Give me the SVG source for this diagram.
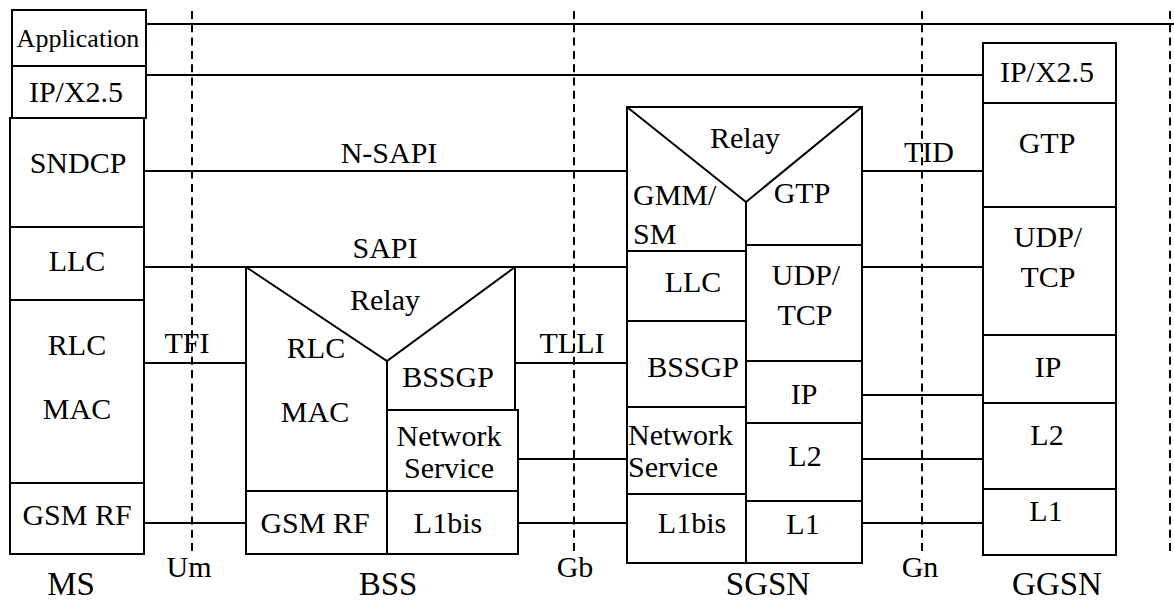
<svg xmlns="http://www.w3.org/2000/svg" width="1174" height="602" viewBox="0 0 1174 602">
  <style>
    .box { fill: none; stroke: #000; stroke-width: 2; }
    .ln { stroke: #000; stroke-width: 2; fill: none; }
    .iface { stroke: #000; stroke-width: 2; stroke-dasharray: 8 5.3; fill: none; }
    text { font-family: "Liberation Serif", "Times New Roman", Times, Tinos, "Nimbus Roman", "Nimbus Roman No9 L", "Noto Serif", "DejaVu Serif", FreeSerif, serif; font-size: 30px; fill: #000; text-anchor: middle; }
    .l { text-anchor: start; }
    .small { font-size: 26px; }
    .big { font-size: 33px; }
  </style>
  <rect width="1174" height="602" fill="#fff"/>

  <!-- interface reference points -->
  <g id="interfaces">
    <line class="iface" x1="192" y1="11" x2="192" y2="552"/>
    <line class="iface" x1="574" y1="11" x2="574" y2="552"/>
    <line class="iface" x1="922" y1="11" x2="922" y2="552"/>
    <line class="iface" x1="1170" y1="11" x2="1170" y2="552"/>
    <text x="189" y="577">Um</text>
    <text x="575" y="577">Gb</text>
    <text x="920" y="577">Gn</text>
  </g>

  <!-- peer-to-peer links between protocol layers -->
  <g id="connectors">
    <line class="ln" x1="146" y1="24" x2="1174" y2="24"/>
    <line class="ln" x1="146" y1="75" x2="983" y2="75"/>
    <line class="ln" x1="144" y1="171" x2="627" y2="171"/>
    <line class="ln" x1="144" y1="267" x2="627" y2="267"/>
    <line class="ln" x1="144" y1="363" x2="246" y2="363"/>
    <line class="ln" x1="144" y1="523" x2="246" y2="523"/>
    <line class="ln" x1="515" y1="363" x2="627" y2="363"/>
    <line class="ln" x1="518" y1="459" x2="627" y2="459"/>
    <line class="ln" x1="518" y1="523" x2="627" y2="523"/>
    <line class="ln" x1="862" y1="171" x2="983" y2="171"/>
    <line class="ln" x1="862" y1="267" x2="983" y2="267"/>
    <line class="ln" x1="862" y1="395" x2="983" y2="395"/>
    <line class="ln" x1="862" y1="459" x2="983" y2="459"/>
    <line class="ln" x1="862" y1="523" x2="983" y2="523"/>
    <text x="389" y="163">N-SAPI</text>
    <text x="385" y="258">SAPI</text>
    <text x="187" y="353">TFI</text>
    <text x="572" y="353">TLLI</text>
    <text x="929" y="162">TID</text>
  </g>

  <!-- Mobile station stack -->
  <g id="ms">
    <rect class="box" x="12" y="10" width="134" height="56"/>
    <rect class="box" x="12" y="66" width="134" height="52"/>
    <rect class="box" x="10" y="118" width="134" height="436"/>
    <line class="ln" x1="10" y1="227" x2="144" y2="227"/>
    <line class="ln" x1="10" y1="300" x2="144" y2="300"/>
    <line class="ln" x1="10" y1="483" x2="144" y2="483"/>
    <text class="small" x="78" y="47">Application</text>
    <text x="76" y="102">IP/X2.5</text>
    <text x="78" y="173">SNDCP</text>
    <text x="77" y="271">LLC</text>
    <text x="77" y="355">RLC</text>
    <text x="77" y="419">MAC</text>
    <text x="77" y="525">GSM RF</text>
    <text class="big" x="71" y="595">MS</text>
  </g>

  <!-- Base station subsystem -->
  <g id="bss">
    <path class="box" d="M515,267 H246 V554 H518 V410 H515 Z"/>
    <path class="ln" d="M246,267 L387,361 L515,267"/>
    <line class="ln" x1="387" y1="361" x2="387" y2="554"/>
    <line class="ln" x1="387" y1="410" x2="518" y2="410"/>
    <line class="ln" x1="246" y1="491" x2="518" y2="491"/>
    <text x="385" y="310">Relay</text>
    <text x="316" y="358">RLC</text>
    <text x="315" y="422">MAC</text>
    <text x="448" y="387">BSSGP</text>
    <text x="449" y="446">Network</text>
    <text x="449" y="478">Service</text>
    <text x="315" y="533">GSM RF</text>
    <text x="448" y="533">L1bis</text>
    <text class="big" x="388" y="595">BSS</text>
  </g>

  <!-- Serving GPRS support node -->
  <g id="sgsn">
    <rect class="box" x="627" y="107" width="235" height="456"/>
    <path class="ln" d="M627,107 L746,202 L862,107"/>
    <line class="ln" x1="746" y1="202" x2="746" y2="563"/>
    <line class="ln" x1="627" y1="251" x2="746" y2="251"/>
    <line class="ln" x1="627" y1="321" x2="746" y2="321"/>
    <line class="ln" x1="627" y1="407" x2="746" y2="407"/>
    <line class="ln" x1="627" y1="494" x2="746" y2="494"/>
    <line class="ln" x1="746" y1="245" x2="862" y2="245"/>
    <line class="ln" x1="746" y1="361" x2="862" y2="361"/>
    <line class="ln" x1="746" y1="423" x2="862" y2="423"/>
    <line class="ln" x1="746" y1="501" x2="862" y2="501"/>
    <text x="745" y="148">Relay</text>
    <text class="l" x="633" y="205">GMM/</text>
    <text class="l" x="633" y="244">SM</text>
    <text x="802" y="203">GTP</text>
    <text x="693" y="292">LLC</text>
    <text x="806" y="285">UDP/</text>
    <text x="805" y="325">TCP</text>
    <text x="693" y="377">BSSGP</text>
    <text x="804" y="404">IP</text>
    <text class="l" x="628" y="445">Network</text>
    <text class="l" x="628" y="477">Service</text>
    <text x="805" y="466">L2</text>
    <text x="692" y="533">L1bis</text>
    <text x="803" y="534">L1</text>
    <text class="big" x="768" y="595">SGSN</text>
  </g>

  <!-- Gateway GPRS support node -->
  <g id="ggsn">
    <rect class="box" x="983" y="43" width="133" height="512"/>
    <line class="ln" x1="983" y1="103" x2="1116" y2="103"/>
    <line class="ln" x1="983" y1="207" x2="1116" y2="207"/>
    <line class="ln" x1="983" y1="335" x2="1116" y2="335"/>
    <line class="ln" x1="983" y1="403" x2="1116" y2="403"/>
    <line class="ln" x1="983" y1="489" x2="1116" y2="489"/>
    <text x="1047" y="82">IP/X2.5</text>
    <text x="1047" y="153">GTP</text>
    <text x="1048" y="247">UDP/</text>
    <text x="1048" y="287">TCP</text>
    <text x="1048" y="377">IP</text>
    <text x="1047" y="445">L2</text>
    <text x="1046" y="521">L1</text>
    <text class="big" x="1057" y="595">GGSN</text>
  </g>
</svg>
